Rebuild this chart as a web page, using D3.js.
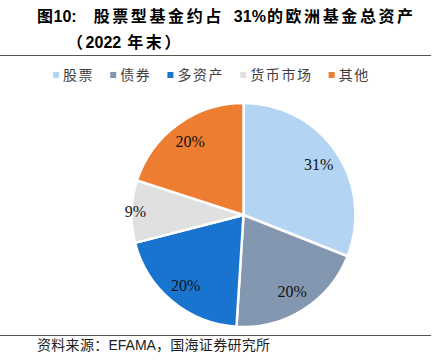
<!DOCTYPE html>
<html><head><meta charset="utf-8">
<script src="https://cdn.jsdelivr.net/npm/d3@7"></script>
<style>body{margin:0;background:#fff}svg{display:block}</style>
</head><body>
<script>
const categories = ["股票","债券","多资产","货币市场","其他"];
const values = [31, 20, 20, 9, 20];
const labels = ["31%","20%","20%","9%","20%"];
const colors = ["#B4D4F4","#8497B0","#1874CF","#E0E0E0","#ED7D31"];

const W = 438, H = 363;
const svg = d3.select("body").append("svg").attr("width", W).attr("height", H);

// title
const tfont = "'Noto Sans CJK SC', 'Liberation Sans', sans-serif";
const lat = "'Liberation Sans', Arial, sans-serif";
const t1 = svg.append("text").attr("x", 37).attr("y", 22)
  .attr("font-family", tfont).attr("font-weight", "bold").attr("font-size", 16)
  .attr("letter-spacing", 2.6).attr("fill", "#000");
t1.append("tspan").attr("letter-spacing", 0.5).text("图");
t1.append("tspan").attr("font-family", lat).attr("letter-spacing", 0).text("10:");
t1.append("tspan").attr("dx", 17).text("股票型基金约占");
t1.append("tspan").attr("dx", 10).attr("font-family", lat).attr("letter-spacing", 0).text("31%");
t1.append("tspan").attr("dx", 1).text("的欧洲基金总资产");
const t2 = svg.append("text").attr("x", 67).attr("y", 48)
  .attr("font-family", tfont).attr("font-weight", "bold").attr("font-size", 16)
  .attr("letter-spacing", 2.6).attr("fill", "#000");
t2.append("tspan").text("（");
t2.append("tspan").attr("font-family", lat).attr("letter-spacing", 0).text("2022");
t2.append("tspan").attr("dx", 6).text("年末）");

svg.append("line").attr("x1", 0).attr("x2", 431).attr("y1", 55.5).attr("y2", 55.5)
  .attr("stroke", "#555").attr("stroke-width", 1);
svg.append("line").attr("x1", 0).attr("x2", 431).attr("y1", 335.5).attr("y2", 335.5)
  .attr("stroke", "#555").attr("stroke-width", 1);

// legend
const leg = svg.append("g").attr("transform", "translate(53,75)");
let lx = 0;
categories.forEach((c, i) => {
  const g = leg.append("g").attr("transform", `translate(${lx},0)`);
  g.append("rect").attr("x", 0).attr("y", -3).attr("width", 6).attr("height", 6).attr("fill", colors[i]);
  const t = g.append("text").attr("x", 10).attr("y", 5).attr("font-family", tfont)
    .attr("font-size", 14).attr("letter-spacing", 1.6).attr("fill", "#404040").text(c);
  const w = t.node().getComputedTextLength();
  lx += 10 + w + 16;
});

// pie
const cx = 243.5, cy = 215, R = 112;
const pie = d3.pie().sort(null).value(d => d)(values);
const arc = d3.arc().innerRadius(0).outerRadius(R);
const g = svg.append("g").attr("transform", `translate(${cx},${cy})`);
g.selectAll("path").data(pie).join("path")
  .attr("d", arc).attr("fill", (d, i) => colors[i])
  .attr("stroke", "#fff").attr("stroke-width", 2.5).attr("stroke-linejoin", "round");

g.selectAll("text.lbl").data(pie).join("text").attr("class", "lbl")
  .attr("transform", d => {
    const frac = (d.endAngle - d.startAngle) / (2 * Math.PI);
    const r = frac < 0.1 ? R * 0.965 : R * 0.81;
    const a = (d.startAngle + d.endAngle) / 2;
    return `translate(${Math.sin(a) * r},${-Math.cos(a) * r})`;
  })
  .attr("text-anchor", "middle").attr("dy", "0.35em")
  .attr("font-family", "'Liberation Serif', 'Times New Roman', serif")
  .attr("font-size", 16).attr("fill", "#111")
  .text((d, i) => labels[i]);

// footer
const f = svg.append("text").attr("x", 37).attr("y", 350).attr("font-family", tfont)
  .attr("font-size", 14).attr("letter-spacing", 0.3).attr("fill", "#222");
f.append("tspan").text("资料来源：");
f.append("tspan").attr("font-family", lat).attr("letter-spacing", 0).text("EFAMA");
f.append("tspan").text("，国海证券研究所");
</script>
</body></html>
